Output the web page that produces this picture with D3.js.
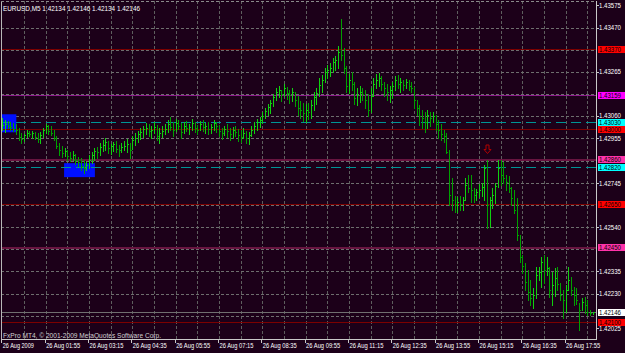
<!DOCTYPE html>
<html>
<head>
<meta charset="utf-8">
<script src="https://cdn.jsdelivr.net/npm/d3@7/dist/d3.min.js"></script>
<style>
body { margin: 0; background: #1c0019; }
svg { display: block; }
</style>
</head>
<body>
<script>
// EURUSD M5 bars, one entry per bar
var highs = [
1.43050,1.43041,1.43036,1.43031,1.43027,1.43022,1.43003,1.42980,1.42975,1.42994,
1.42989,1.42989,1.42985,1.42980,1.42985,1.43003,1.43022,1.43017,1.43013,1.42994,
1.42966,1.42933,1.42919,1.42910,1.42901,1.42891,1.42896,1.42882,1.42868,1.42863,
1.42854,1.42845,1.42877,1.42891,1.42910,1.42915,1.42933,1.42947,1.42957,1.42943,
1.42929,1.42938,1.42943,1.42924,1.42933,1.42943,1.42952,1.42933,1.42966,1.42980,
1.42989,1.43003,1.43013,1.43027,1.43022,1.43013,1.43031,1.43017,1.43003,1.43013,
1.43022,1.43041,1.43054,1.43031,1.43045,1.43041,1.43027,1.43031,1.43036,1.43022,
1.43045,1.43031,1.43017,1.43036,1.43041,1.43027,1.43031,1.43022,1.43041,1.43031,
1.43017,1.43003,1.43013,1.43022,1.43003,1.43008,1.43013,1.42999,1.42994,1.43003,
1.42989,1.42985,1.43013,1.43031,1.43045,1.43054,1.43078,1.43096,1.43115,1.43134,
1.43162,1.43190,1.43199,1.43180,1.43208,1.43194,1.43180,1.43190,1.43171,1.43152,
1.43129,1.43120,1.43115,1.43120,1.43134,1.43171,1.43190,1.43236,1.43250,1.43283,
1.43297,1.43306,1.43330,1.43339,1.43385,1.43511,1.43376,1.43292,1.43255,1.43264,
1.43218,1.43190,1.43199,1.43190,1.43180,1.43162,1.43190,1.43236,1.43255,1.43260,
1.43246,1.43218,1.43208,1.43199,1.43218,1.43246,1.43250,1.43236,1.43227,1.43232,
1.43227,1.43218,1.43194,1.43134,1.43110,1.43087,1.43078,1.43087,1.43078,1.43078,
1.43064,1.43041,1.43022,1.42994,1.42980,1.42901,1.42770,1.42686,1.42682,1.42686,
1.42682,1.42770,1.42784,1.42784,1.42723,1.42719,1.42742,1.42747,1.42831,1.42854,
1.42682,1.42723,1.42747,1.42854,1.42854,1.42845,1.42784,1.42779,1.42728,1.42714,
1.42677,1.42504,1.42411,1.42374,1.42341,1.42295,1.42257,1.42355,1.42355,1.42402,
1.42411,1.42402,1.42355,1.42332,1.42351,1.42355,1.42281,1.42248,1.42271,1.42355,
1.42309,1.42262,1.42257,1.42187,1.42211,1.42215,1.42201,1.42155,1.42146
];
var lows = [
1.42994,1.42985,1.43003,1.42994,1.42989,1.42975,1.42947,1.42933,1.42943,1.42961,
1.42966,1.42957,1.42952,1.42938,1.42933,1.42961,1.42980,1.42975,1.42971,1.42947,
1.42910,1.42877,1.42868,1.42873,1.42854,1.42849,1.42854,1.42835,1.42826,1.42807,
1.42793,1.42807,1.42817,1.42840,1.42854,1.42863,1.42877,1.42896,1.42901,1.42887,
1.42882,1.42896,1.42891,1.42873,1.42891,1.42901,1.42891,1.42863,1.42905,1.42924,
1.42938,1.42952,1.42961,1.42975,1.42966,1.42957,1.42980,1.42947,1.42933,1.42961,
1.42975,1.42985,1.42994,1.42966,1.42989,1.42999,1.42957,1.42980,1.42989,1.42975,
1.42994,1.42985,1.42975,1.42994,1.42989,1.42980,1.42975,1.42980,1.42994,1.42985,
1.42966,1.42952,1.42971,1.42961,1.42947,1.42957,1.42966,1.42943,1.42938,1.42957,
1.42933,1.42929,1.42966,1.42980,1.42994,1.43008,1.43027,1.43050,1.43064,1.43073,
1.43106,1.43134,1.43148,1.43129,1.43152,1.43138,1.43120,1.43129,1.43106,1.43064,
1.43050,1.43036,1.43031,1.43045,1.43050,1.43087,1.43115,1.43152,1.43171,1.43218,
1.43236,1.43246,1.43264,1.43274,1.43283,1.43320,1.43260,1.43171,1.43166,1.43180,
1.43115,1.43110,1.43124,1.43134,1.43096,1.43059,1.43078,1.43152,1.43190,1.43199,
1.43180,1.43152,1.43134,1.43124,1.43143,1.43180,1.43190,1.43171,1.43180,1.43190,
1.43180,1.43171,1.43096,1.43064,1.43017,1.43003,1.42985,1.43003,1.43013,1.43031,
1.42994,1.42957,1.42947,1.42938,1.42887,1.42644,1.42621,1.42612,1.42612,1.42621,
1.42621,1.42668,1.42705,1.42658,1.42658,1.42668,1.42682,1.42686,1.42668,1.42537,
1.42542,1.42630,1.42654,1.42728,1.42737,1.42747,1.42714,1.42705,1.42644,1.42607,
1.42481,1.42379,1.42327,1.42248,1.42201,1.42178,1.42164,1.42211,1.42295,1.42262,
1.42281,1.42318,1.42215,1.42178,1.42220,1.42248,1.42201,1.42117,1.42145,1.42248,
1.42225,1.42178,1.42183,1.42061,1.42155,1.42141,1.42131,1.42131,1.42134
];
var closes = [
1.43017,1.43022,1.43013,1.43008,1.42999,1.42994,1.42961,1.42952,1.42971,1.42980,
1.42975,1.42980,1.42961,1.42952,1.42971,1.42994,1.43013,1.42989,1.42980,1.42957,
1.42919,1.42901,1.42887,1.42896,1.42873,1.42863,1.42877,1.42854,1.42845,1.42826,
1.42817,1.42831,1.42854,1.42877,1.42896,1.42891,1.42915,1.42924,1.42938,1.42910,
1.42919,1.42929,1.42905,1.42901,1.42915,1.42919,1.42929,1.42901,1.42947,1.42957,
1.42975,1.42985,1.42999,1.43003,1.42989,1.42994,1.43008,1.42966,1.42980,1.42989,
1.42999,1.43022,1.43008,1.42994,1.43027,1.43013,1.42985,1.43013,1.43003,1.43008,
1.43027,1.43003,1.42994,1.43022,1.43008,1.43013,1.42999,1.43008,1.43027,1.43013,
1.42989,1.42980,1.42999,1.42989,1.42975,1.42994,1.42985,1.42971,1.42961,1.42980,
1.42957,1.42971,1.42994,1.43013,1.43031,1.43041,1.43059,1.43082,1.43101,1.43120,
1.43148,1.43171,1.43180,1.43162,1.43190,1.43166,1.43157,1.43171,1.43134,1.43096,
1.43087,1.43073,1.43087,1.43078,1.43110,1.43148,1.43166,1.43204,1.43227,1.43264,
1.43274,1.43283,1.43311,1.43320,1.43358,1.43344,1.43283,1.43199,1.43227,1.43208,
1.43143,1.43157,1.43171,1.43162,1.43134,1.43087,1.43152,1.43208,1.43227,1.43236,
1.43208,1.43190,1.43171,1.43180,1.43199,1.43227,1.43208,1.43218,1.43204,1.43218,
1.43199,1.43190,1.43134,1.43096,1.43059,1.43050,1.43031,1.43064,1.43050,1.43059,
1.43022,1.42994,1.42975,1.42966,1.42891,1.42691,1.42668,1.42644,1.42658,1.42649,
1.42668,1.42737,1.42723,1.42714,1.42691,1.42705,1.42714,1.42728,1.42817,1.42644,
1.42668,1.42691,1.42733,1.42817,1.42784,1.42770,1.42752,1.42723,1.42677,1.42621,
1.42504,1.42402,1.42360,1.42285,1.42239,1.42211,1.42225,1.42318,1.42332,1.42379,
1.42341,1.42351,1.42248,1.42271,1.42304,1.42276,1.42225,1.42201,1.42248,1.42295,
1.42248,1.42225,1.42201,1.42155,1.42192,1.42178,1.42145,1.42141,1.42146
];

var timeLabels = ["26 Aug 2009", "26 Aug 01:55", "26 Aug 03:15", "26 Aug 04:35", "26 Aug 05:55",
  "26 Aug 07:15", "26 Aug 08:35", "26 Aug 09:55", "26 Aug 11:15", "26 Aug 12:35",
  "26 Aug 13:55", "26 Aug 15:15", "26 Aug 16:35", "26 Aug 17:55"];
var barsPerLabel = 16;
var barsPerGrid = 8;

var gridPrices = [1.43470, 1.43368, 1.43265, 1.43160, 1.43060, 1.42955, 1.42850,
  1.42745, 1.42643, 1.42540, 1.42438, 1.42335, 1.42230, 1.42128];
var priceLabels = [1.43575, 1.43470, 1.43265, 1.43060, 1.42955, 1.42745, 1.42540,
  1.42335, 1.42230, 1.42025];

var levelPrices = [1.43370, 1.43159, 1.43030, 1.43000, 1.42860, 1.42820, 1.42650, 1.42450, 1.42146, 1.42100];
var levelKinds = ["red", "magenta", "cyan", "red", "pink", "cyan", "red", "pink", "bid", "red"];

var zoneFrom = [0, 23];
var zoneTo = [5, 34];
var zoneTop = [1.43067, 1.42839];
var zoneBottom = [1.42983, 1.42774];

var signalBars = [179];
var signalPrices = [1.42905];

var title = "EURUSD,M5  1.42134 1.42146 1.42134 1.42146";
var footer = "FxPro MT4, \u00a9 2001-2009 MetaQuotes Software Corp.";

var width = 625, height = 353;
var plotRight = 596, plotBottom = 339;
var font = "'Liberation Sans', Arial, sans-serif";

var kindStyle = {
    red:     {stroke: "#7c0000", w: 1, dash: null, box: "#ff0000"},
    magenta: {stroke: "#8c1c8c", w: 1, dash: null, box: "#ff00ff"},
    cyan:    {stroke: "#009494", w: 1, dash: "10,5", box: "#00ffff"},
    pink:    {stroke: "#681440", w: 2, dash: null, box: "#ff33aa"},
    bid:     {stroke: "#707070", w: 1, dash: null, box: "#ffffff"}
};

var svg = d3.select("body")
    .append("svg")
    .attr("width", width)
    .attr("height", height);

svg.append("rect")
    .attr("width", width)
    .attr("height", height)
    .attr("fill", "#1c0019");

var x = d3.scaleLinear().domain([0, highs.length - 1]).range([2.3, 592.7]);
var y = d3.scaleLinear().domain([1.42025, 1.43575]).range([337.8, 5.3]);

function px(v) { return Math.round(v) + 0.5; }

svg.append("clipPath").attr("id", "plot")
    .append("rect").attr("x", 1).attr("y", 1).attr("width", plotRight - 1).attr("height", plotBottom - 1);

var plot = svg.append("g").attr("clip-path", "url(#plot)");

// grid
var gridBars = d3.range(barsPerGrid, highs.length, barsPerGrid);
plot.selectAll("line.vgrid")
    .data(gridBars)
    .enter()
    .append("line")
    .attr("x1", d => px(x(d))).attr("x2", d => px(x(d)))
    .attr("y1", 1).attr("y2", plotBottom)
    .attr("stroke", "#5e5e5e")
    .attr("stroke-dasharray", "3,2")
    .attr("shape-rendering", "crispEdges");

plot.selectAll("line.hgrid")
    .data(gridPrices)
    .enter()
    .append("line")
    .attr("x1", 1).attr("x2", plotRight)
    .attr("y1", d => px(y(d))).attr("y2", d => px(y(d)))
    .attr("stroke", "#6e6e6e")
    .attr("stroke-dasharray", "3,2")
    .attr("shape-rendering", "crispEdges");

// blue zones
plot.selectAll("rect.zone")
    .data(zoneFrom)
    .enter()
    .append("rect")
    .attr("x", (d, i) => x(d) - 0.5)
    .attr("y", (d, i) => y(zoneTop[i]))
    .attr("width", (d, i) => x(zoneTo[i]) - x(d) + 1)
    .attr("height", (d, i) => y(zoneBottom[i]) - y(zoneTop[i]))
    .attr("fill", "#0010ff");

// level lines
plot.selectAll("line.level")
    .data(levelPrices)
    .enter()
    .append("line")
    .attr("x1", 1).attr("x2", plotRight)
    .attr("y1", d => px(y(d))).attr("y2", d => px(y(d)))
    .attr("stroke", (d, i) => kindStyle[levelKinds[i]].stroke)
    .attr("stroke-width", (d, i) => kindStyle[levelKinds[i]].w)
    .attr("stroke-dasharray", (d, i) => kindStyle[levelKinds[i]].dash)
    .attr("shape-rendering", "crispEdges");

// bars: high-low line plus close tick
var bars = plot.selectAll("g.bar")
    .data(highs)
    .enter()
    .append("g")
    .attr("stroke", (d, i) => (i > 0 && closes[i] < closes[i - 1]) ? "#00a000" : "#10d010")
    .attr("shape-rendering", "crispEdges");
bars.append("line")
    .attr("x1", (d, i) => px(x(i))).attr("x2", (d, i) => px(x(i)))
    .attr("y1", d => Math.round(y(d)))
    .attr("y2", (d, i) => Math.round(y(lows[i])) + 1);
bars.append("line")
    .attr("x1", (d, i) => px(x(i))).attr("x2", (d, i) => px(x(i)) + 1.5)
    .attr("y1", (d, i) => px(y(closes[i])))
    .attr("y2", (d, i) => px(y(closes[i])));

// sell arrow
plot.selectAll("path.signal")
    .data(signalBars)
    .enter()
    .append("path")
    .attr("transform", (d, i) => "translate(" + px(x(d)) + "," + px(y(signalPrices[i])) + ")")
    .attr("d", "M-1.5,-4.5H1.5V0H3.5L0,4L-3.5,0H-1.5Z")
    .attr("fill", "none")
    .attr("stroke", "#b00000");

// frame
svg.append("line").attr("x1", 1.5).attr("x2", 1.5).attr("y1", 1).attr("y2", plotBottom)
    .attr("stroke", "#b8b8b8");
svg.append("line").attr("x1", 1).attr("x2", plotRight).attr("y1", 1.5).attr("y2", 1.5)
    .attr("stroke", "#8a8a8a").attr("stroke-dasharray", "3,2");
svg.append("line").attr("x1", plotRight + 0.5).attr("x2", plotRight + 0.5).attr("y1", 1).attr("y2", plotBottom + 1)
    .attr("stroke", "#c8c8c8");
svg.append("line").attr("x1", 1).attr("x2", plotRight + 1).attr("y1", plotBottom + 0.5).attr("y2", plotBottom + 0.5)
    .attr("stroke", "#c8c8c8");

// price axis
function labelY(p) { return Math.max(5, Math.min(328, y(p))); }
svg.selectAll("line.ptick")
    .data(priceLabels)
    .enter()
    .append("line")
    .attr("x1", plotRight).attr("x2", plotRight + 3)
    .attr("y1", d => px(labelY(d))).attr("y2", d => px(labelY(d)))
    .attr("stroke", "#c8c8c8");
svg.selectAll("text.plabel")
    .data(priceLabels)
    .enter()
    .append("text")
    .attr("x", 599)
    .attr("y", d => labelY(d) + 2.6)
    .attr("font-family", font)
    .attr("font-size", "7px")
    .attr("fill", "#ffffff")
    .attr("textLength", 22)
    .attr("lengthAdjust", "spacingAndGlyphs")
    .text(d => d.toFixed(5));

// level boxes
var boxes = svg.selectAll("g.box")
    .data(levelPrices)
    .enter()
    .append("g");
boxes.append("rect")
    .attr("x", plotRight + 2)
    .attr("y", d => Math.round(y(d)) - 3)
    .attr("width", width - plotRight - 2)
    .attr("height", 7)
    .attr("fill", (d, i) => kindStyle[levelKinds[i]].box);
boxes.append("text")
    .attr("x", 599)
    .attr("y", d => Math.round(y(d)) + 3)
    .attr("font-family", font)
    .attr("font-size", "7px")
    .attr("fill", "#000000")
    .attr("textLength", 22)
    .attr("lengthAdjust", "spacingAndGlyphs")
    .text(d => d.toFixed(5));

// time axis
svg.selectAll("line.ttick")
    .data(timeLabels)
    .enter()
    .append("line")
    .attr("x1", (d, i) => px(x(i * barsPerLabel)) - 1).attr("x2", (d, i) => px(x(i * barsPerLabel)) - 1)
    .attr("y1", plotBottom).attr("y2", plotBottom + 4)
    .attr("stroke", "#c8c8c8");
svg.selectAll("text.tlabel")
    .data(timeLabels)
    .enter()
    .append("text")
    .attr("x", (d, i) => x(i * barsPerLabel) + 0.5)
    .attr("y", 348)
    .attr("font-family", font)
    .attr("font-size", "8px")
    .attr("fill", "#ffffff")
    .attr("textLength", (d, i) => i == 0 ? 31 : 34)
    .attr("lengthAdjust", "spacingAndGlyphs")
    .text(d => d);

// title and footer
svg.append("text")
    .attr("x", 3).attr("y", 10.5)
    .attr("font-family", font)
    .attr("font-size", "8px")
    .attr("fill", "#ffffff")
    .attr("textLength", 137)
    .attr("lengthAdjust", "spacingAndGlyphs")
    .text(title);
svg.append("text")
    .attr("x", 3).attr("y", 337.5)
    .attr("font-family", font)
    .attr("font-size", "8px")
    .attr("fill", "#d0d0d0")
    .attr("textLength", 158)
    .attr("lengthAdjust", "spacingAndGlyphs")
    .text(footer);
</script>
</body>
</html>
